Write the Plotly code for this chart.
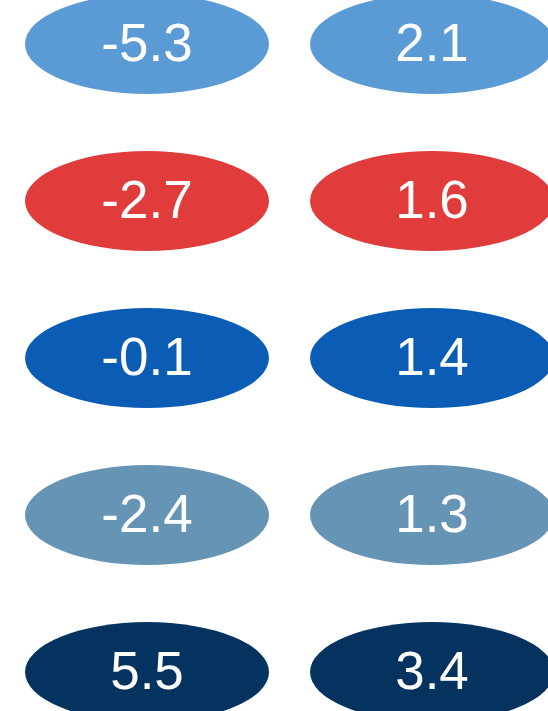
import plotly.graph_objects as go

rows = [0, 1, 2, 3, 4]
col_a = [-5.3, -2.7, -0.1, -2.4, 5.5]
col_b = [2.1, 1.6, 1.4, 1.3, 3.4]
row_colors = ["#5B9BD5", "#E03C3C", "#0B5CB5", "#6694B5", "#04335F"]

fig = go.Figure()
hw, hh = 0.428, 0.318
text_dy = 0.025  # visual nudge to center digits in the ellipse
shapes = []
for ci, col in enumerate([col_a, col_b]):
    for r, v in zip(rows, col):
        shapes.append(dict(type="circle", xref="x", yref="y",
                           x0=ci - hw, x1=ci + hw, y0=r - hh, y1=r + hh,
                           fillcolor=row_colors[r], line=dict(width=0), layer="below"))
    fig.add_trace(go.Scatter(x=[ci] * len(rows), y=[r + text_dy for r in rows], mode="text",
                             text=[f"{v:.1f}" for v in col],
                             textfont=dict(family="Liberation Sans, Arial", size=53, color="white"),
                             textposition="middle center", hoverinfo="skip", showlegend=False))

fig.update_layout(width=548, height=711, margin=dict(l=0, r=0, t=0, b=0),
                  plot_bgcolor="white", paper_bgcolor="white", shapes=shapes,
                  xaxis=dict(range=[-0.5158, 1.407], visible=False, fixedrange=True),
                  yaxis=dict(range=[4.248, -0.280], visible=False, fixedrange=True))
fig.write_html("out.html", config={"displayModeBar": False},
               post_script="document.body.style.margin='0';document.body.style.overflow='hidden';")
